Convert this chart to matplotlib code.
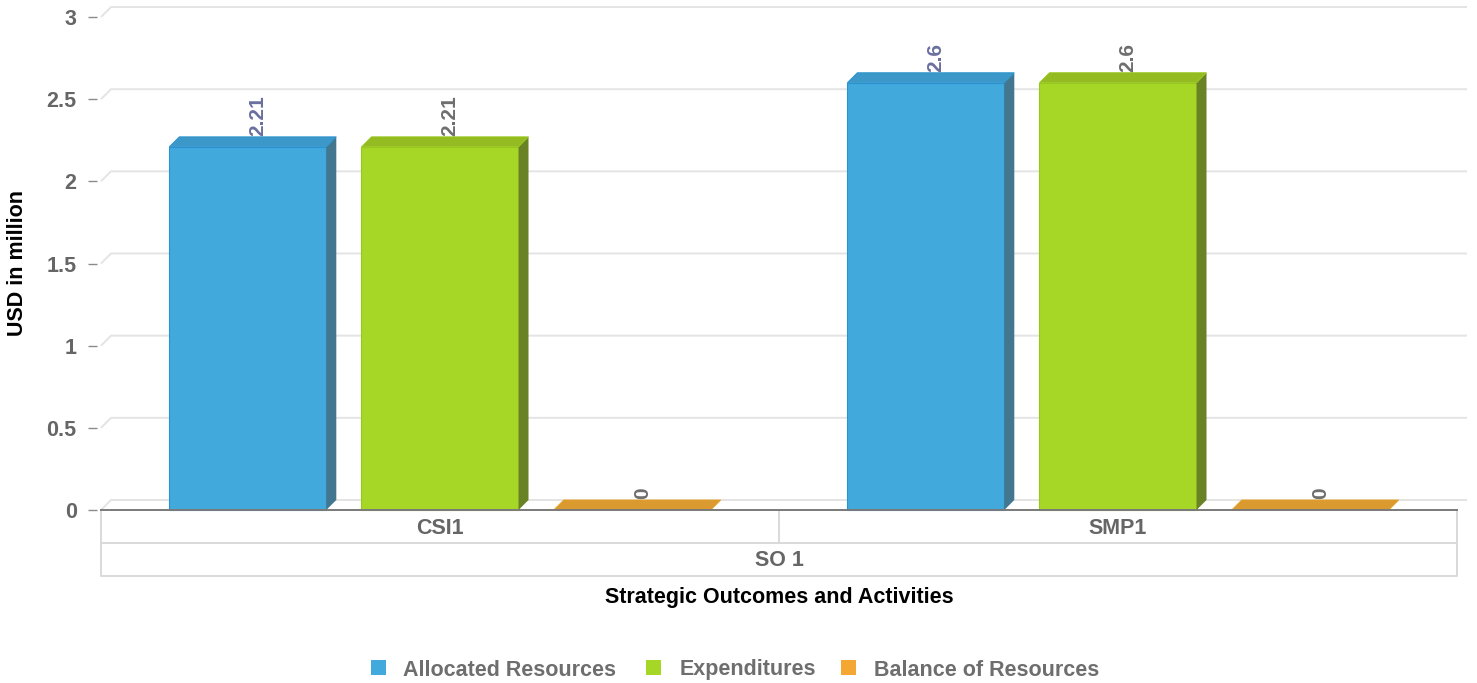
import matplotlib
matplotlib.use('Agg')
import matplotlib.pyplot as plt
from matplotlib.patches import Polygon, Rectangle

plt.rcParams['font.family'] = ['Liberation Sans', 'DejaVu Sans']

# ---- data ----
categories = ['CSI1', 'SMP1']
group_label = 'SO 1'
series_names = ['Allocated Resources', 'Expenditures', 'Balance of Resources']
allocated = [2.21, 2.6]
expenditures = [2.21, 2.6]
balance = [0, 0]
yticks = [0, 0.5, 1, 1.5, 2, 2.5, 3]
ytick_labels = ['0', '0.5', '1', '1.5', '2', '2.5', '3']
y_title = 'USD in million'
x_title = 'Strategic Outcomes and Activities'

series = [allocated, expenditures, balance]
front_colors = ['#41a9dc', '#a7d726', '#f5a733']
top_colors = ['#3b98c9', '#94bb22', '#db9a30']
side_colors = ['#437790', '#6a8226', '#a87a2a']
edge_colors = ['#2a93cf', '#98c81c', '#e8a020']
label_colors = ['#6a6f9e', '#6e6e6e', '#6e6e6e']
legend_colors = ['#41a9dc', '#a7d726', '#f5a733']

FS = 15.5

W, H = 1477, 683
fig = plt.figure(figsize=(W / 100, H / 100), dpi=100)
L, R, T, B = 101, 1457, 17, 510
ax = fig.add_axes([L / W, 1 - B / H, (R - L) / W, (B - T) / H])
ax.set_xlim(-0.5, 1.5)
ax.set_ylim(0, 3)

xpx = (R - L) / 2.0
ypx = (B - T) / 3.0
dx = 10 / xpx
dy = 10 / ypx

# back-wall grid lines (3D)
for yv in yticks:
    ax.plot([-0.5, -0.5 + dx, 1.5 + dx], [yv, yv + dy, yv + dy], color='#e4e4e4',
            lw=1.4, zorder=1, clip_on=False, solid_capstyle='butt')

offsets = [-0.2835, 0.0, 0.2835]
width = 0.2316
for si, vals in enumerate(series):
    for ci, h in enumerate(vals):
        xc = ci + offsets[si]
        x0, x1 = xc - width / 2, xc + width / 2
        if h > 0:
            ax.bar(xc, h, width, color=front_colors[si], edgecolor=edge_colors[si],
                   linewidth=0.8, zorder=3, clip_on=False, label=series_names[si] if ci == 0 else None)
            side = Polygon([(x1, 0), (x1 + dx, dy), (x1 + dx, h + dy), (x1, h)],
                           closed=True, facecolor=side_colors[si], edgecolor='none',
                           zorder=3, clip_on=False)
            ax.add_patch(side)
        top = Polygon([(x0, h), (x1, h), (x1 + dx, h + dy), (x0 + dx, h + dy)],
                      closed=True, facecolor=top_colors[si], edgecolor=edge_colors[si],
                      linewidth=0.6, zorder=4, clip_on=False)
        ax.add_patch(top)
        ax.text(xc + dx, h + dy + 1.0 / ypx, '{:g}'.format(h), rotation=90,
                ha='center', va='bottom', fontsize=15, fontweight='bold',
                color=label_colors[si], zorder=6, clip_on=False)

# axes styling
for s in ['top', 'right', 'left']:
    ax.spines[s].set_visible(False)
ax.spines['bottom'].set_color('#7a7a7a')
ax.spines['bottom'].set_linewidth(1.4)
ax.spines['bottom'].set_zorder(5)
ax.spines['left'].set_position(('outward', 3))
ax.set_yticks(yticks)
ax.set_yticklabels(ytick_labels)
ax.tick_params(axis='y', length=6.5, width=1.0, color='#8a8a8a', pad=8.0,
               labelsize=FS, labelcolor='#666666')
for t in ax.get_yticklabels():
    t.set_fontweight('bold')
ax.set_xticks([])
ax.patch.set_alpha(0)

# grouped category axis box
trx = ax.get_xaxis_transform()
def ya(py):
    return -(py - B) / (B - T)
box_c = '#d9d9d9'
box_lw = 1.4
ax.plot([-0.5, -0.5, 1.5, 1.5], [ya(B), ya(576), ya(576), ya(B)], transform=trx,
        color=box_c, lw=box_lw, clip_on=False, zorder=0)
ax.plot([-0.5, 1.5], [ya(543), ya(543)], transform=trx, color=box_c, lw=box_lw,
        clip_on=False, zorder=0)
ax.plot([0.5, 0.5], [ya(B), ya(543)], transform=trx, color=box_c, lw=box_lw,
        clip_on=False, zorder=0)
for ci, c in enumerate(categories):
    ax.text(ci, ya(528), c, transform=trx, ha='center', va='center', fontsize=FS,
            fontweight='bold', color='#666666')
ax.text(0.5, ya(561), group_label, transform=trx, ha='center', va='center',
        fontsize=FS, fontweight='bold', color='#666666')

fig.text(779 / W, 1 - 597 / H, x_title, ha='center', va='center', fontsize=FS,
         fontweight='bold', color='black')
fig.text(18 / W, 1 - 263 / H, y_title, ha='center', va='center', rotation=90,
         fontsize=FS, fontweight='bold', color='black')

# legend (symbol squares + labels sharing one baseline)
legend_sq_x = [371, 646, 841]
legend_txt_x = [403, 680, 874]
sq = 15
for name, col, sx, tx in zip(series_names, legend_colors, legend_sq_x, legend_txt_x):
    fig.add_artist(Rectangle((sx / W, 1 - 675 / H), sq / W, sq / H, facecolor=col,
                             edgecolor='none', transform=fig.transFigure))
    fig.text(tx / W, 1 - 675.5 / H, name, ha='left', va='baseline', fontsize=FS,
             fontweight='bold', color='#6e6e6e')

fig.savefig('out.png', dpi=100)
